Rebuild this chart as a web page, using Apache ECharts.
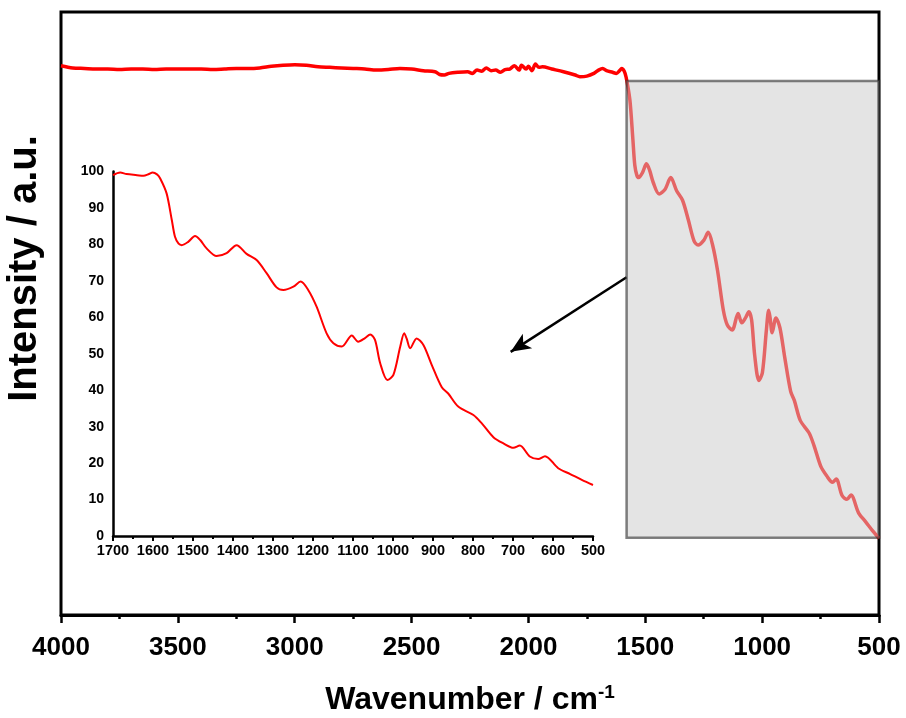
<!DOCTYPE html>
<html>
<head>
<meta charset="utf-8">
<script src="https://cdn.jsdelivr.net/npm/echarts@6/dist/echarts.min.js"></script>
<style>
  html, body { margin: 0; padding: 0; background: #fff; }
  #chart { width: 906px; height: 718px; }
</style>
</head>
<body>
<div id="chart"></div>
<script>
// Full-range FTIR spectrum, 4000 - 1690 cm-1 (nearly flat transmittance)
const fullWave = [4000, 3950, 3900, 3850, 3800, 3750, 3700, 3650, 3600, 3550, 3500, 3450, 3400, 3350, 3300,
  3250, 3200, 3150, 3100, 3050, 3000, 2950, 2900, 2850, 2800, 2750, 2700, 2650, 2600, 2550, 2500, 2450,
  2400, 2380, 2360, 2340, 2300, 2260, 2240, 2220, 2200, 2180, 2160, 2140, 2120, 2100, 2080, 2060, 2040,
  2030, 2010, 2000, 1985, 1970, 1955, 1940, 1900, 1850, 1800, 1780, 1750, 1720, 1700];
const fullValue = [100.2, 99.8, 99.7, 99.6, 99.6, 99.5, 99.6, 99.6, 99.5, 99.6, 99.6, 99.6, 99.6, 99.5, 99.6,
  99.7, 99.7, 99.8, 100.1, 100.3, 100.4, 100.3, 100.0, 99.9, 99.8, 99.7, 99.6, 99.4, 99.5, 99.7, 99.6, 99.3,
  99.1, 98.6, 98.5, 98.8, 99.0, 99.1, 98.8, 99.4, 99.2, 99.8, 99.3, 99.4, 99.0, 99.5, 99.6, 100.2, 99.4,
  100.3, 99.6, 100.1, 99.3, 100.5, 99.9, 100.0, 99.6, 99.1, 98.5, 98.2, 98.3, 98.8, 99.4];

// Fingerprint region, 1700 - 500 cm-1 (shown enlarged in the inset)
const fingerWave = [1700, 1682, 1666, 1640, 1624, 1610, 1601, 1590, 1582, 1566, 1553, 1545, 1536, 1528, 1512,
  1495, 1482, 1466, 1441, 1416, 1391, 1366, 1341, 1316, 1291, 1274, 1249, 1231, 1212, 1191, 1166, 1149,
  1128, 1103, 1087, 1070, 1057, 1045, 1032, 1014, 999, 982, 972, 966, 957, 941, 924, 903, 878, 862, 837,
  799, 778, 749, 724, 699, 683, 658, 637, 620, 587, 557, 528, 500];
const fingerValue = [99.0, 99.7, 99.3, 99.0, 98.8, 99.3, 99.7, 99.2, 98.1, 94.0, 86.7, 82.1, 80.2, 79.8, 80.7,
  82.3, 81.2, 78.9, 76.8, 77.6, 79.8, 77.4, 75.7, 72.1, 68.2, 67.5, 68.4, 69.8, 67.5, 62.9, 55.6, 52.9,
  52.0, 55.0, 53.3, 54.3, 55.3, 53.8, 47.4, 42.8, 44.2, 51.9, 55.6, 54.2, 51.5, 54.2, 52.4, 46.9, 40.8, 39.1, 35.5,
  33.2, 30.9, 27.1, 25.4, 24.2, 24.8, 21.8, 21.1, 21.9, 18.6, 17.0, 15.4, 14.0];

// Highlighted region on the main plot: [wave start, top value, wave end, bottom value]
const zoomBox = [1580, 97.4, 500, 14.1];
// Pointer from the highlighted region to the inset: [wave, value] start and end
const pointerFrom = [1580, 61.6];
const pointerTo = [2076, 48.0];

const mainTicks = [4000, 3500, 3000, 2500, 2000, 1500, 1000, 500];
const insetTicksX = [1700, 1600, 1500, 1400, 1300, 1200, 1100, 1000, 900, 800, 700, 600, 500];
const insetTicksY = [0, 10, 20, 30, 40, 50, 60, 70, 80, 90, 100];

const fullSeries = fullWave.map((w, i) => [w, fullValue[i]])
  .concat(fingerWave.map((w, i) => [w, fingerValue[i]]).filter(p => p[0] < 1690));
const insetSeries = fingerWave.map((w, i) => [w, fingerValue[i]]);

const FONT = '"Liberation Sans", Arial, sans-serif';
const plain = v => String(v);

const chart = echarts.init(document.getElementById('chart'), null, { renderer: 'canvas' });

chart.setOption({
  backgroundColor: '#ffffff',
  animation: false,
  grid: [
    { left: 61, right: 27, top: 12, bottom: 103, show: true, borderColor: '#000', borderWidth: 3,
      backgroundColor: 'transparent', containLabel: false, outerBoundsMode: 'none' },
    { left: 113, right: 313, top: 171.5, bottom: 182, show: false, containLabel: false, outerBoundsMode: 'none' }
  ],
  xAxis: [
    {
      gridIndex: 0, type: 'value', inverse: true,
      min: mainTicks[mainTicks.length - 1], max: mainTicks[0], interval: 500,
      axisLine: { show: true, lineStyle: { color: '#000', width: 3 } },
      axisTick: { show: true, inside: false, length: 8, lineStyle: { color: '#000', width: 2.5 } },
      minorTick: { show: true, splitNumber: 2, length: 4, lineStyle: { color: '#000', width: 2.5 } },
      splitLine: { show: false },
      axisLabel: { color: '#000', fontFamily: FONT, fontWeight: 'bold', fontSize: 26, margin: 20, formatter: plain },
      name: 'Wavenumber / cm{sup|-1}',
      nameLocation: 'middle', nameGap: 68,
      nameTextStyle: {
        color: '#000', fontFamily: FONT, fontWeight: 'bold', fontSize: 32,
        rich: { sup: { color: '#000', fontFamily: FONT, fontWeight: 'bold', fontSize: 19, padding: [0, 0, 15, 0] } }
      }
    },
    {
      gridIndex: 1, type: 'value', inverse: true,
      min: insetTicksX[insetTicksX.length - 1], max: insetTicksX[0], interval: 100,
      axisLine: { show: true, onZero: false, lineStyle: { color: '#000', width: 2.5 } },
      axisTick: { show: true, inside: false, length: 5, lineStyle: { color: '#000', width: 2 } },
      minorTick: { show: true, splitNumber: 2, length: 3, lineStyle: { color: '#000', width: 2 } },
      splitLine: { show: false },
      axisLabel: { color: '#000', fontFamily: FONT, fontWeight: 'bold', fontSize: 14.5, margin: 7, formatter: plain }
    }
  ],
  yAxis: [
    {
      gridIndex: 0, type: 'value', min: 0, max: 110,
      axisLine: { show: false }, axisTick: { show: false }, axisLabel: { show: false }, splitLine: { show: false },
      name: 'Intensity / a.u.', nameLocation: 'middle', nameGap: 16, nameRotate: 90,
      nameTextStyle: { color: '#000', fontFamily: FONT, fontWeight: 'bold', fontSize: 40, padding: [0, 0, 0, 90] }
    },
    {
      gridIndex: 1, type: 'value', min: insetTicksY[0], max: insetTicksY[insetTicksY.length - 1], interval: 10,
      axisLine: { show: true, onZero: false, lineStyle: { color: '#000', width: 2.5 } },
      axisTick: { show: false },
      splitLine: { show: false },
      axisLabel: { color: '#000', fontFamily: FONT, fontWeight: 'bold', fontSize: 14, margin: 9, formatter: plain }
    }
  ],
  series: [
    {
      type: 'line', xAxisIndex: 0, yAxisIndex: 0, z: 2,
      data: fullSeries, showSymbol: false, smooth: 0.3,
      lineStyle: { color: '#ff0000', width: 3.5 },
      markLine: {
        silent: true, symbol: ['none', 'arrow'], symbolSize: [13, 20],
        label: { show: false },
        lineStyle: { color: '#000', width: 2.5, type: 'solid' },
        data: [[{ coord: pointerFrom }, { coord: pointerTo }]]
      }
    },
    {
      // translucent box over the fingerprint region
      type: 'custom', xAxisIndex: 0, yAxisIndex: 0, z: 5, silent: true,
      data: [zoomBox],
      renderItem: function (params, api) {
        const p1 = api.coord([api.value(0), api.value(1)]);
        const p2 = api.coord([api.value(2), api.value(3)]);
        return {
          type: 'rect',
          shape: { x: p1[0], y: p1[1], width: p2[0] - p1[0], height: p2[1] - p1[1] },
          style: { fill: 'rgba(202,202,202,0.5)', stroke: 'rgba(60,60,60,0.65)', lineWidth: 2.5 }
        };
      }
    },
    {
      type: 'line', xAxisIndex: 1, yAxisIndex: 1, z: 3,
      data: insetSeries, showSymbol: false, smooth: 0.3,
      lineStyle: { color: '#ff0000', width: 2 }
    }
  ]
});
</script>
</body>
</html>
